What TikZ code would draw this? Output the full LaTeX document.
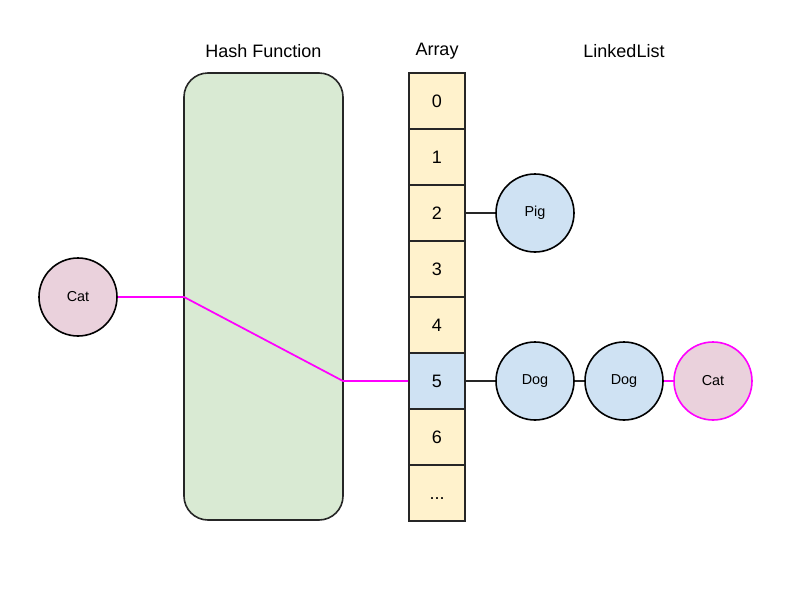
\documentclass[tikz,border=0pt]{standalone}
\usepackage{fontspec}
\setmainfont{Liberation Sans}
\definecolor{hashgreen}{HTML}{D9EAD3}
\definecolor{cellyellow}{HTML}{FFF2CC}
\definecolor{nodeblue}{HTML}{CFE2F3}
\definecolor{nodepink}{HTML}{EAD1DC}
\definecolor{mag}{HTML}{FF00FF}
\begin{document}
\begin{tikzpicture}[x=0.75pt,y=-0.75pt,
  cell/.style={draw=black!85, line width=1.2pt, fill=cellyellow, minimum width=42pt, minimum height=42pt, inner sep=0pt, font=\fontsize{13.5}{15}\selectfont},
  item/.style={circle, draw=black, line width=1.2pt, minimum size=58.5pt, inner sep=0pt, font=\fontsize{10.8}{12}\selectfont},
  title/.style={font=\fontsize{13.5}{15}\selectfont},
  link/.style={line width=1.2pt, draw=black!85},
  hot/.style={line width=1.3pt, draw=mag}]
\useasboundingbox (0,0) rectangle (800,600);
% hash function box
\node[draw=black!85, line width=1.2pt, fill=hashgreen, rounded corners=18pt, minimum width=119.25pt, minimum height=335.25pt, inner sep=0pt] (hash) at (263.5,296.5) {};
% titles
\node[title] (thash) at (263.5,51) {Hash Function};
\node[title] (tarr) at (437,51) {Array};
\node[title] (tll) at (624,51) {LinkedList};
% array
\node[cell] (c0) at (437,101) {0};
\node[cell] (c1) at (437,157) {1};
\node[cell] (c2) at (437,213) {2};
\node[cell] (c3) at (437,269) {3};
\node[cell] (c4) at (437,325) {4};
\node[cell, fill=nodeblue] (c5) at (437,381) {5};
\node[cell] (c6) at (437,437) {6};
\node[cell] (c7) at (437,493) {\vphantom{0}...};
% items
\node[item, fill=nodepink] (cat) at (78,297) {Cat};
\node[item, fill=nodeblue] (pig) at (535,213) {Pig};
\node[item, fill=nodeblue] (dog1) at (535,381) {Dog};
\node[item, fill=nodeblue] (dog2) at (624,381) {Dog};
\node[item, fill=nodepink, draw=mag] (cat2) at (713,381) {Cat};
% links
\draw[link] (c2.east) -- (pig.west);
\draw[link] (c5.east) -- (dog1.west);
\draw[link] (dog1.east) -- (dog2.west);
\draw[hot] (dog2.east) -- (cat2.west);
\coordinate (hin) at (184,297);
\coordinate (hout) at (343,381);
\draw[hot] (cat.east) -- (hin) -- (hout) -- (c5.west);
\end{tikzpicture}
\end{document}
